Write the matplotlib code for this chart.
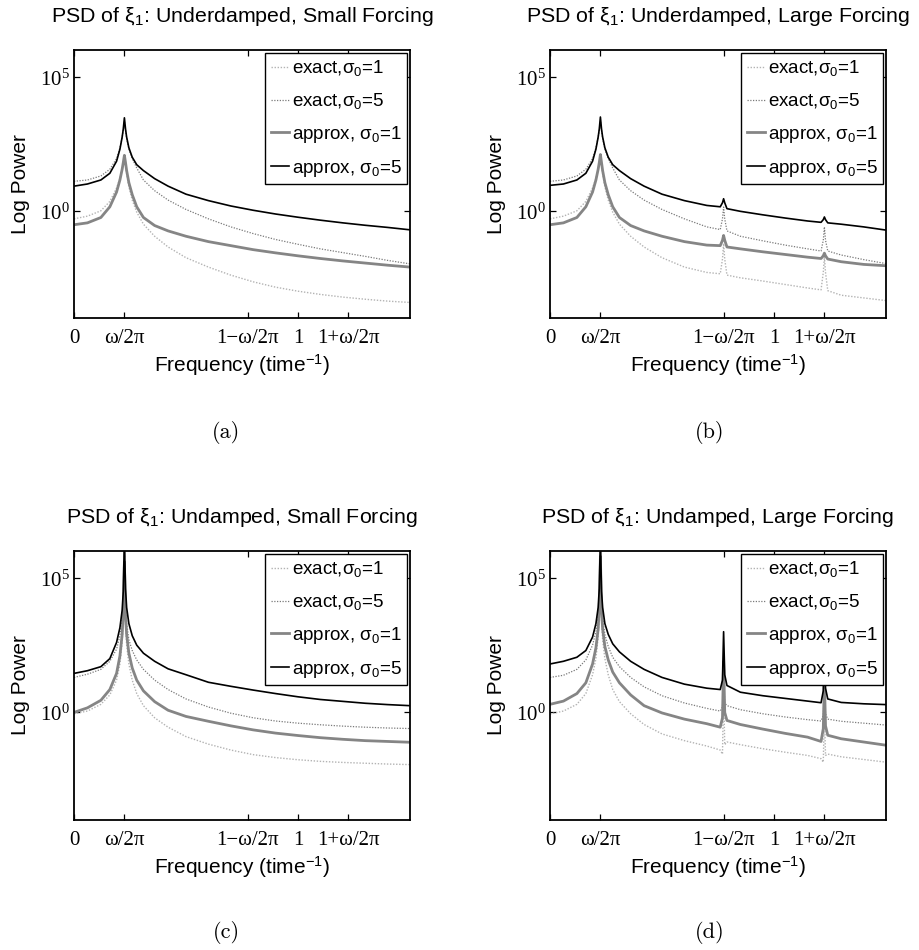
import numpy as np
import matplotlib
matplotlib.use("Agg")
import matplotlib.pyplot as plt
from matplotlib.ticker import NullLocator

plt.rcParams['font.family'] = ['Liberation Sans', 'DejaVu Sans']
plt.rcParams['mathtext.fontset'] = 'custom'
plt.rcParams['mathtext.rm'] = 'Liberation Sans'
plt.rcParams['mathtext.sf'] = 'Liberation Sans'
plt.rcParams['mathtext.it'] = 'Liberation Sans:italic'
plt.rcParams['mathtext.tt'] = 'Liberation Serif'

# ---------------------------------------------------------------- frequencies
half_omega = 0.225            # omega / 2pi
tick_freqs = [0.0, half_omega, 1 - half_omega, 1.0, 1 + half_omega]
tick_labels = ['0', 'ω/2π', '1−ω/2π', '1', '1+ω/2π']

freq_plain = [0, .06, .12, .16, .19, .205, .215, .22, .225, .23, .235, .245, .26, .28,
              .31, .36, .42, .50, .60, .70, .80, .90, 1.0, 1.1, 1.2, 1.3, 1.4, 1.5]
freq_forced = [0, .06, .12, .16, .19, .205, .215, .22, .225, .23, .235, .245, .26, .28,
               .31, .36, .42, .50, .60, .70, .76, .77, .775, .78, .79, .85, .95, 1.05,
               1.15, 1.21, 1.22, 1.225, 1.23, 1.24, 1.30, 1.40, 1.50]

# ------------------------------------------------- log10 power, each panel
# (a) underdamped, small forcing
a_exact1 = [-0.30, -0.20, 0.00, 0.35, 0.85, 1.20, 1.55, 1.75, 2.00, 1.70, 1.40, 0.90, 0.40, -0.05,
            -0.50, -0.95, -1.35, -1.75, -2.10, -2.40, -2.65, -2.85, -3.00, -3.12, -3.22, -3.30, -3.37, -3.42]
a_exact5 = [1.10, 1.15, 1.30, 1.55, 1.95, 2.35, 2.75, 3.00, 3.35, 3.00, 2.70, 2.30, 1.95, 1.60,
            1.15, 0.75, 0.40, 0.05, -0.30, -0.60, -0.85, -1.07, -1.25, -1.42, -1.56, -1.70, -1.85, -1.98]
a_approx1 = [-0.52, -0.45, -0.25, 0.15, 0.70, 1.15, 1.55, 1.80, 2.07, 1.80, 1.50, 1.05, 0.60, 0.15,
             -0.25, -0.55, -0.75, -0.95, -1.15, -1.30, -1.45, -1.57, -1.68, -1.78, -1.87, -1.95, -2.03, -2.10]
a_approx5 = [0.92, 1.00, 1.15, 1.40, 1.85, 2.30, 2.75, 3.05, 3.47, 3.05, 2.75, 2.35, 2.00, 1.72,
             1.50, 1.20, 0.92, 0.62, 0.38, 0.18, 0.02, -0.12, -0.24, -0.35, -0.45, -0.54, -0.62, -0.71]

# (b) underdamped, large forcing
b_exact1 = [-0.30, -0.20, 0.00, 0.35, 0.85, 1.20, 1.55, 1.75, 2.00, 1.70, 1.40, 0.90, 0.40, -0.05,
            -0.50, -0.95, -1.35, -1.75, -2.10, -2.30, -2.35, -1.80, -1.22, -1.80, -2.40, -2.50, -2.62,
            -2.75, -2.88, -2.95, -2.30, -1.72, -2.30, -2.98, -3.15, -3.25, -3.35]
b_exact5 = [1.10, 1.15, 1.30, 1.55, 1.95, 2.35, 2.75, 3.00, 3.35, 3.00, 2.70, 2.30, 1.95, 1.60,
            1.15, 0.75, 0.40, 0.05, -0.30, -0.60, -0.70, -0.30, 0.14, -0.30, -0.75, -0.95, -1.12,
            -1.28, -1.42, -1.50, -1.10, -0.60, -1.10, -1.50, -1.65, -1.82, -1.97]
b_approx1 = [-0.52, -0.45, -0.25, 0.15, 0.70, 1.15, 1.55, 1.80, 2.10, 1.80, 1.50, 1.05, 0.60, 0.15,
             -0.25, -0.55, -0.75, -0.95, -1.15, -1.28, -1.30, -1.10, -0.92, -1.10, -1.35, -1.42, -1.53,
             -1.63, -1.73, -1.78, -1.68, -1.58, -1.68, -1.80, -1.90, -2.00, -2.05]
b_approx5 = [0.95, 1.00, 1.15, 1.40, 1.85, 2.30, 2.75, 3.05, 3.50, 3.05, 2.75, 2.35, 2.00, 1.72,
             1.50, 1.20, 0.92, 0.62, 0.38, 0.20, 0.15, 0.30, 0.45, 0.30, 0.08, -0.02, -0.15,
             -0.27, -0.38, -0.43, -0.33, -0.23, -0.33, -0.45, -0.50, -0.60, -0.72]

# (c) undamped, small forcing
c_exact1 = [-0.05, 0.05, 0.30, 0.65, 1.20, 1.80, 2.60, 3.40, 5.20, 3.30, 2.50, 1.80, 1.20, 0.70,
            0.25, -0.20, -0.55, -0.90, -1.18, -1.40, -1.57, -1.68, -1.76, -1.82, -1.86, -1.89, -1.92, -1.94]
c_exact5 = [1.30, 1.42, 1.60, 1.90, 2.35, 2.85, 3.50, 4.20, 5.60, 4.10, 3.30, 2.70, 2.30, 1.95,
            1.60, 1.20, 0.85, 0.50, 0.20, -0.03, -0.20, -0.32, -0.40, -0.46, -0.51, -0.55, -0.58, -0.60]
c_approx1 = [0.00, 0.17, 0.45, 0.85, 1.45, 2.10, 2.90, 3.70, 5.60, 3.60, 2.90, 2.20, 1.65, 1.20,
             0.80, 0.40, 0.08, -0.15, -0.33, -0.50, -0.65, -0.77, -0.86, -0.94, -1.00, -1.05, -1.08, -1.11]
c_approx5 = [1.45, 1.55, 1.70, 2.00, 2.60, 3.15, 3.80, 4.50, 6.50, 4.60, 3.90, 3.30, 2.85, 2.50,
             2.20, 1.90, 1.62, 1.40, 1.12, 0.97, 0.83, 0.70, 0.58, 0.48, 0.41, 0.34, 0.29, 0.25]

# (d) undamped, large forcing
d_exact1 = [-0.06, 0.05, 0.30, 0.70, 1.40, 2.00, 2.80, 3.50, 5.00, 3.40, 2.70, 2.00, 1.40, 0.85,
            0.40, -0.05, -0.45, -0.80, -1.05, -1.25, -1.40, -1.55, 0.90, -1.20, -1.10, -1.20, -1.35,
            -1.48, -1.60, -1.72, -1.85, 0.00, -1.60, -1.55, -1.65, -1.75, -1.85]
d_exact5 = [1.30, 1.38, 1.60, 1.95, 2.50, 3.00, 3.60, 4.30, 5.50, 4.20, 3.50, 2.90, 2.45, 2.05,
            1.70, 1.30, 0.95, 0.62, 0.35, 0.15, 0.05, 0.20, 1.50, 0.35, 0.25, 0.10, -0.05,
            -0.17, -0.27, -0.32, -0.10, 0.90, -0.05, -0.25, -0.33, -0.40, -0.47]
d_approx1 = [0.30, 0.42, 0.70, 1.10, 1.80, 2.40, 3.10, 3.90, 5.80, 3.80, 3.10, 2.45, 1.95, 1.50,
             1.10, 0.65, 0.25, -0.02, -0.25, -0.42, -0.55, -0.20, 1.90, 0.00, -0.30, -0.45, -0.62,
             -0.78, -0.92, -1.08, -0.60, 1.20, -0.50, -0.85, -0.98, -1.10, -1.22]
d_approx5 = [1.80, 1.90, 2.05, 2.30, 2.80, 3.30, 3.90, 4.60, 6.50, 4.50, 3.90, 3.30, 2.90, 2.55,
             2.25, 1.90, 1.60, 1.30, 1.05, 0.90, 0.85, 1.20, 3.00, 1.40, 1.00, 0.75, 0.62,
             0.52, 0.42, 0.36, 0.80, 2.80, 0.90, 0.50, 0.37, 0.32, 0.29]

titles = ['PSD of ξ$_{\\mathsf{1}}$: Underdamped, Small Forcing',
          'PSD of ξ$_{\\mathsf{1}}$: Underdamped, Large Forcing',
          'PSD of ξ$_{\\mathsf{1}}$: Undamped, Small Forcing',
          'PSD of ξ$_{\\mathsf{1}}$: Undamped, Large Forcing']
captions = ['(a)', '(b)', '(c)', '(d)']
series_labels = ['exact,σ$_{\\mathsf{0}}$=1', 'exact,σ$_{\\mathsf{0}}$=5',
                 'approx, σ$_{\\mathsf{0}}$=1', 'approx, σ$_{\\mathsf{0}}$=5']

panels = [
    (freq_plain, [a_exact1, a_exact5, a_approx1, a_approx5]),
    (freq_forced, [b_exact1, b_exact5, b_approx1, b_approx5]),
    (freq_plain, [c_exact1, c_exact5, c_approx1, c_approx5]),
    (freq_forced, [d_exact1, d_exact5, d_approx1, d_approx5]),
]

styles = [
    dict(color=(0.70, 0.70, 0.70), lw=1.0, ls=(0, (1, 1.2))),
    dict(color=(0.48, 0.48, 0.48), lw=0.9, ls=(0, (1, 1.2))),
    dict(color=(0.52, 0.52, 0.52), lw=2.0, ls='-'),
    dict(color='black', lw=1.2, ls='-'),
]

W, H = 919, 950
fig = plt.figure(figsize=(W / 100, H / 100), dpi=100)
fig.patch.set_facecolor('white')

# axes boxes in pixels: left, top, right, bottom
boxes = [(74, 50, 410, 318), (550, 50, 886, 318),
         (74, 551, 410, 820), (550, 551, 886, 820)]
caption_xy = [(226, 432), (710, 432), (226, 932), (710, 932)]

for i, (freqs, series) in enumerate(panels):
    l, t, r, b = boxes[i]
    ax = fig.add_axes([l / W, 1 - b / H, (r - l) / W, (b - t) / H])
    f = np.asarray(freqs)
    for vals, lab, st in zip(series, series_labels, styles):
        ax.plot(f, np.power(10.0, np.asarray(vals)), label=lab, **st)
    ax.set_yscale('log')
    ax.set_xlim(0, 1.5)
    ax.set_ylim(1e-4, 1e6)
    ax.set_yticks([1e0, 1e5])
    ax.set_yticklabels([r'$\mathtt{10^{0}}$', r'$\mathtt{10^{5}}$'], fontsize=15)
    ax.yaxis.set_minor_locator(NullLocator())
    ax.set_xticks(tick_freqs)
    ax.set_xticklabels(tick_labels, fontfamily='Liberation Serif', fontsize=15)
    ax.tick_params(direction='in', top=True, right=True, length=4, width=0.9)
    ax.tick_params(axis='x', pad=8)
    ax.tick_params(axis='y', pad=3)
    for sp in ax.spines.values():
        sp.set_linewidth(1.3)
    ax.set_title(titles[i], fontsize=15.4, pad=20)
    ax.set_xlabel('Frequency (time$^{\\mathsf{-1}}$)', fontsize=15, labelpad=3)
    ax.set_ylabel('Log Power', fontsize=15)
    ax.yaxis.set_label_coords(-0.13, 0.5)
    leg = ax.legend(loc='upper right', fontsize=13.5, frameon=True, fancybox=False,
                    edgecolor='black', framealpha=1, borderaxespad=0.15,
                    handlelength=0.95, handletextpad=0.15, labelspacing=0.68,
                    borderpad=0.3)
    leg.get_frame().set_linewidth(1.0)
    leg.set_zorder(10)
    cx, cy = caption_xy[i]
    fig.text(cx / W, 1 - cy / H, captions[i], ha='center', va='center',
             fontfamily='cmr10', fontsize=16)

fig.savefig('out.png', dpi=100, facecolor='white')
